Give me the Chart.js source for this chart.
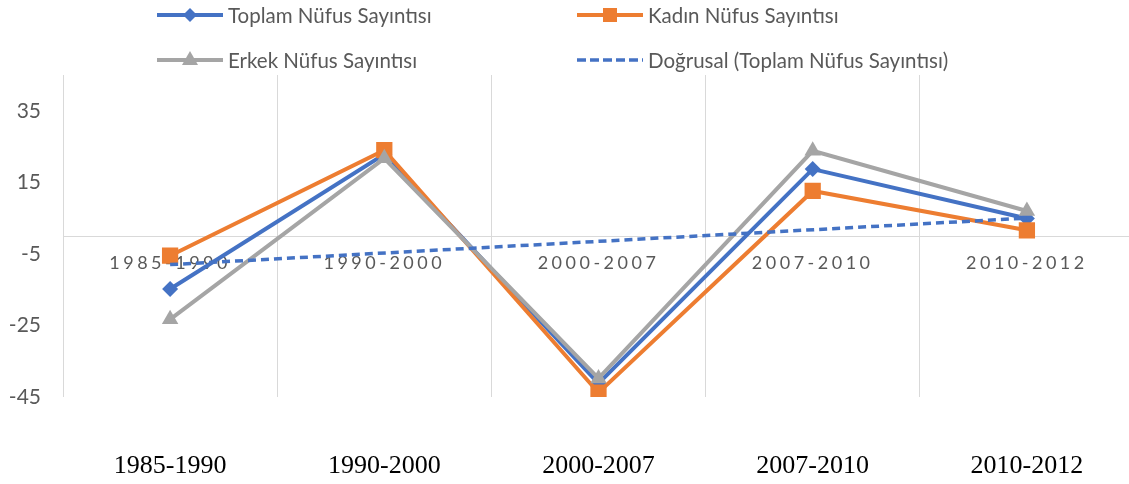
<!DOCTYPE html>
<html><head><meta charset="utf-8">
<script src="https://cdn.jsdelivr.net/npm/chart.js@4/dist/chart.umd.min.js"></script>
<style>
html,body{margin:0;padding:0;background:#fff;overflow:hidden;width:1129px;height:484px;}
#wrap{position:relative;width:1136px;height:484px;}
canvas{position:absolute;left:0;top:0;}
#legend{position:absolute;left:0;top:0;width:1129px;height:75px;font-family:Lato,sans-serif;font-size:20.5px;color:#595959;}
.item{position:absolute;display:flex;align-items:center;height:30px;white-space:nowrap;}
.item svg{margin-right:5px;flex:none;}
</style></head>
<body>
<div id="wrap"><canvas id="c" width="1136" height="484"></canvas><div id="legend"></div></div>
<script>
const categories = ['1985-1990', '1990-2000', '2000-2007', '2007-2010', '2010-2012'];
const seriesNames = ['Toplam Nüfus Sayıntısı', 'Kadın Nüfus Sayıntısı', 'Erkek Nüfus Sayıntısı', 'Doğrusal (Toplam Nüfus Sayıntısı)'];
const toplam = [-14.8, 22.8, -41.2, 18.7, 4.9];
const kadin = [-5.5, 24.0, -43.8, 12.6, 1.6];
const erkek = [-23.3, 21.7, -39.8, 23.8, 7.0];
const trendToplam = [-8.0, null, null, null, 5.0];
const yTicks = [-45, -25, -5, 15, 35];

const BLUE = '#4472C4', ORANGE = '#ED7D31', GRAY = '#A5A5A5', GRID = '#D9D9D9', TXT = '#595959';

const letterSpacingPlugin = {
  id: 'letterSpacingX',
  beforeDraw(chart) {
    const s = chart.scales.x;
    if (s && !s._lsWrapped) {
      const orig = s.drawLabels;
      s.drawLabels = function (area) {
        const ctx = this.ctx;
        ctx.save();
        ctx.letterSpacing = '3.5px';
        orig.call(this, area);
        ctx.restore();
        ctx.letterSpacing = '0px';
      };
      s._lsWrapped = true;
    }
  }
};

function noSidePadding(scale) { scale.paddingLeft = 0; scale.paddingRight = 0; }

new Chart(document.getElementById('c'), {
  type: 'line',
  data: {
    labels: categories,
    datasets: [
      { label: seriesNames[0], data: toplam, borderColor: BLUE, backgroundColor: BLUE, borderWidth: 4,
        pointStyle: 'rectRot', pointRadius: 8, pointBorderWidth: 0, order: 3, xAxisID: 'x' },
      { label: seriesNames[1], data: kadin, borderColor: ORANGE, backgroundColor: ORANGE, borderWidth: 4,
        pointStyle: 'rect', pointRadius: 11.5, pointBorderWidth: 0, order: 2, xAxisID: 'x' },
      { label: seriesNames[2], data: erkek, borderColor: GRAY, backgroundColor: GRAY, borderWidth: 4,
        pointStyle: 'triangle', pointRadius: 9.5, pointBorderWidth: 0, order: 1, xAxisID: 'x' },
      { label: seriesNames[3], data: trendToplam, borderColor: BLUE, backgroundColor: BLUE, borderWidth: 3.5,
        borderDash: [8, 5], pointRadius: 0, spanGaps: true, order: 0, xAxisID: 'x' }
    ]
  },
  options: {
    responsive: false,
    animation: false,
    events: [],
    layout: { autoPadding: false, padding: { top: 75, left: 0, right: 2, bottom: 0 } },
    plugins: { legend: { display: false }, tooltip: { enabled: false } },
    scales: {
      y: {
        min: -45, max: 45,
        afterBuildTicks(axis) { axis.ticks = yTicks.map(v => ({ value: v })); },
        afterFit(scale) { scale.width = 63; },
        grid: { display: false, drawTicks: false },
        border: { display: false },
        ticks: { color: TXT, font: { family: 'Lato', size: 21 }, padding: 22 }
      },
      x: {
        type: 'category',
        labels: categories,
        position: { y: 0 },
        offset: true,
        afterFit: noSidePadding,
        grid: { offset: true, color: GRID, lineWidth: 1, drawTicks: false },
        border: { color: GRID, width: 1 },
        ticks: { color: TXT, font: { family: 'Lato', size: 18 }, padding: 16, maxRotation: 0, autoSkip: false }
      },
      x2: {
        type: 'category',
        labels: categories,
        position: 'bottom',
        offset: true,
        afterFit(scale) { scale.height = 87; noSidePadding(scale); },
        grid: { display: false, drawTicks: false },
        border: { display: false },
        ticks: { color: '#000', font: { family: 'Liberation Serif', size: 26 }, padding: 54, maxRotation: 0, autoSkip: false }
      }
    }
  },
  plugins: [letterSpacingPlugin]
});

// HTML legend (Excel-style grid)
const legendSpec = [
  { name: seriesNames[0], color: BLUE, marker: 'diamond', left: 157, cy: 15 },
  { name: seriesNames[1], color: ORANGE, marker: 'square', left: 577, cy: 15 },
  { name: seriesNames[2], color: GRAY, marker: 'triangle', left: 157, cy: 60 },
  { name: seriesNames[3], color: BLUE, marker: 'dash', left: 577, cy: 60 }
];
const legend = document.getElementById('legend');
legendSpec.forEach(it => {
  let m = '';
  if (it.marker === 'diamond') m = `<line x1="0" y1="10" x2="66" y2="10" stroke="${it.color}" stroke-width="4"/><polygon points="26,10 33,3 40,10 33,17" fill="${it.color}"/>`;
  else if (it.marker === 'square') m = `<line x1="0" y1="10" x2="66" y2="10" stroke="${it.color}" stroke-width="4"/><rect x="26" y="3" width="14" height="14" fill="${it.color}"/>`;
  else if (it.marker === 'triangle') m = `<line x1="0" y1="10" x2="66" y2="10" stroke="${it.color}" stroke-width="4"/><polygon points="33,1 41,15 25,15" fill="${it.color}"/>`;
  else m = `<line x1="0" y1="10" x2="66" y2="10" stroke="${it.color}" stroke-width="3.5" stroke-dasharray="9,4"/>`;
  const d = document.createElement('div');
  d.className = 'item';
  d.style.left = it.left + 'px';
  d.style.top = (it.cy - 15) + 'px';
  d.innerHTML = `<svg width="66" height="20" viewBox="0 0 66 20">${m}</svg><span>${it.name}</span>`;
  legend.appendChild(d);
});
</script>
</body></html>
